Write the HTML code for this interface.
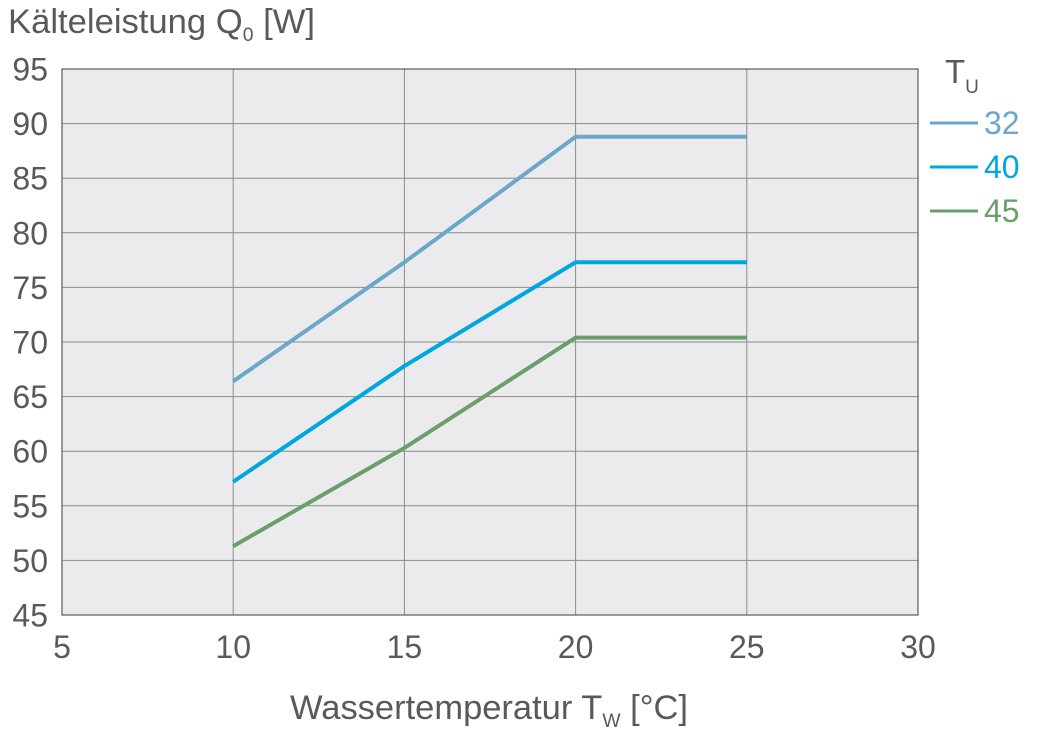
<!DOCTYPE html>
<html><head><meta charset="utf-8"><style>
html,body{margin:0;padding:0;background:#fff;}
svg{display:block;}
text{font-family:"Liberation Sans Narrow","Liberation Sans",sans-serif;fill:#58595b;}
</style></head><body>
<svg id="chart" width="1045" height="739" viewBox="0 0 1045 739" xmlns="http://www.w3.org/2000/svg">
<text x="8" y="33" font-size="34" textLength="307" lengthAdjust="spacingAndGlyphs">Kälteleistung Q<tspan font-size="19" dy="8">0</tspan><tspan dy="-8"> [W]</tspan></text>
<text x="290" y="719" font-size="34" textLength="398" lengthAdjust="spacingAndGlyphs">Wassertemperatur T<tspan font-size="19" dy="8">W</tspan><tspan dy="-8"> [°C]</tspan></text>
<rect x="62" y="69" width="856" height="546" fill="#ebebed"/>
<g id="grid"></g><g id="ticks"></g><g id="series"></g>
<rect x="62" y="69" width="856" height="546" fill="none" stroke="#58595b" stroke-width="1.2"/>
<g id="legend">
<text x="945" y="83" font-size="33">T<tspan font-size="19" dy="10">U</tspan></text>
</g>
</svg>
<script>
const xTicks=[5,10,15,20,25,30];
const yTicks=[45,50,55,60,65,70,75,80,85,90,95];
const xVals=[10,15,20,25];
const seriesNames=["32","40","45"];
const s32=[66.4,77.3,88.8,88.8];
const s40=[57.2,67.8,77.3,77.3];
const s45=[51.3,60.3,70.4,70.4];
const colors=["#6aa7c9","#00a6e0","#6a9e6a"];
const NS="http://www.w3.org/2000/svg";
const X=v=>62+(v-5)*(856/25);
const Y=v=>615-(v-45)*(546/50);
function mk(t,a,p){const e=document.createElementNS(NS,t);for(const k in a)e.setAttribute(k,a[k]);p.appendChild(e);return e;}
const grid=document.getElementById('grid'),ticks=document.getElementById('ticks'),ser=document.getElementById('series'),leg=document.getElementById('legend');
xTicks.forEach(v=>{
 const l=mk('line',{x1:X(v),x2:X(v),y1:69,y2:615,stroke:'#8a8b8d','stroke-width':1},grid);
 
 
 const t=mk('text',{x:X(v),y:658,'font-size':32,'text-anchor':'middle'},ticks);t.textContent=v;
 
 
});
yTicks.forEach(v=>{
 const l=mk('line',{x1:62,x2:918,y1:Y(v),y2:Y(v),stroke:'#8a8b8d','stroke-width':1},grid);
 
 
 const t=mk('text',{x:48,y:Y(v)+11.5,'font-size':32,'text-anchor':'end'},ticks);t.textContent=v;
 
 
});
[s32,s40,s45].forEach((s,i)=>{
 const pts=s.map((v,j)=>X(xVals[j])+','+Y(v)).join(' ');
 const p=mk('polyline',{points:pts,fill:'none',stroke:colors[i],'stroke-width':4},ser);
 
 
 const ly=123+i*44;
 const ll=mk('line',{x1:930,x2:978,y1:ly,y2:ly,stroke:colors[i],'stroke-width':3},leg);
 
 
 const lt=mk('text',{x:984,y:ly+11,'font-size':32,style:'fill:'+colors[i]},leg);lt.textContent=seriesNames[i];
 
 
});
</script>
</body></html>
